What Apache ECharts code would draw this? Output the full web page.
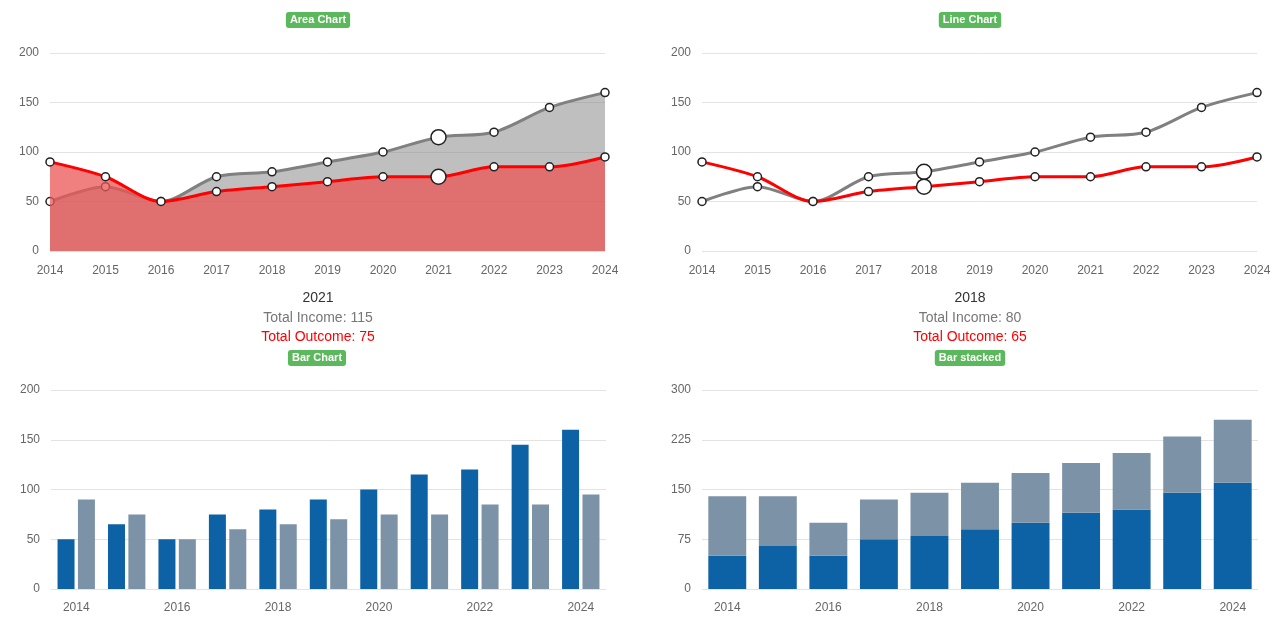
<!DOCTYPE html>
<html>
<head>
<meta charset="utf-8">
<script src="https://cdn.jsdelivr.net/npm/echarts@6/dist/echarts.min.js"></script>
<style>
html,body{margin:0;padding:0;background:#fff;}
#chart{width:1280px;height:622px;}
</style>
</head>
<body>
<div id="chart"></div>
<script>
// ---- data ----
const years = ['2014','2015','2016','2017','2018','2019','2020','2021','2022','2023','2024'];
const income = [50, 65, 50, 75, 80, 90, 100, 115, 120, 145, 160];
const outcome = [90, 75, 50, 60, 65, 70, 75, 75, 85, 85, 95];
const lineYTicks = [0, 50, 100, 150, 200];
const stackYTicks = [0, 75, 150, 225, 300];
const areaHoverIndex = 7;   // 2021
const lineHoverIndex = 4;   // 2018
const panelTitles = ['Area Chart', 'Line Chart', 'Bar Chart', 'Bar stacked'];

// ---- styles ----
const FONT = "'Liberation Sans', Arial, sans-serif";
const GREY_LINE = '#808080';
const RED = '#ff0000';
const BLUE = '#0d62a6';
const SLATE = '#7b92a7';
const SPLIT = '#e3e3e3';
const LABEL = '#666';

const chart = echarts.init(document.getElementById('chart'), null, {renderer: 'canvas'});

function withHover(arr, idx) {
  return arr.map((v, i) => i === idx ? {value: v, symbolSize: 15} : v);
}

function yAxis(gi, ticks) {
  return {
    type: 'value', gridIndex: gi,
    min: ticks[0], max: ticks[ticks.length - 1], interval: ticks[1] - ticks[0],
    axisLine: {show: false}, axisTick: {show: false},
    axisLabel: {color: LABEL, fontSize: 12, fontFamily: FONT, margin: 11},
    splitLine: {lineStyle: {color: SPLIT, width: 1}}
  };
}
function xAxis(gi, gap, interval, margin) {
  return {
    type: 'category', gridIndex: gi, data: years, boundaryGap: gap,
    axisLine: {show: false}, axisTick: {show: false},
    axisLabel: {color: LABEL, fontSize: 12, fontFamily: FONT, margin: margin, interval: interval},
    splitLine: {show: false}
  };
}

const symbolStyle = {color: '#fff', borderColor: '#222', borderWidth: 1.5};

function badge(text, x, y) {
  return {
    type: 'text', x: x, y: y, z: 100,
    style: {
      text: text, fill: '#fff', font: 'bold 11px ' + FONT,
      align: 'center', verticalAlign: 'middle',
      backgroundColor: '#5cb85c', padding: [3, 4, 2, 4], borderRadius: 3
    }
  };
}
function txt(text, x, y, color) {
  return {
    type: 'text', x: x, y: y, z: 100,
    style: {text: text, fill: color, font: '14px ' + FONT, align: 'center', verticalAlign: 'middle'}
  };
}

const option = {
  animation: false,
  backgroundColor: '#fff',
  grid: [
    {left: 50, top: 53, width: 555, height: 198},
    {left: 702, top: 53, width: 555, height: 198},
    {left: 51, top: 390, width: 555, height: 199},
    {left: 702, top: 390, width: 556, height: 199}
  ],
  xAxis: [xAxis(0, false, 0, 14), xAxis(1, false, 0, 14), xAxis(2, true, 1, 13), xAxis(3, true, 1, 13)],
  yAxis: [yAxis(0, lineYTicks), yAxis(1, lineYTicks), yAxis(2, lineYTicks), yAxis(3, stackYTicks)],
  series: [
    // Area chart
    {type: 'line', xAxisIndex: 0, yAxisIndex: 0, z: 2, smooth: 0.3,
     data: withHover(income, areaHoverIndex), symbol: 'circle', symbolSize: 8, showSymbol: true,
     lineStyle: {color: GREY_LINE, width: 3}, itemStyle: symbolStyle,
     areaStyle: {color: 'rgba(128,128,128,0.5)', opacity: 1}},
    {type: 'line', xAxisIndex: 0, yAxisIndex: 0, z: 3, smooth: 0.3,
     data: withHover(outcome, areaHoverIndex), symbol: 'circle', symbolSize: 8, showSymbol: true,
     lineStyle: {color: RED, width: 3}, itemStyle: symbolStyle,
     areaStyle: {color: 'rgba(235,85,85,0.75)', opacity: 1}},
    // Line chart
    {type: 'line', xAxisIndex: 1, yAxisIndex: 1, z: 2, smooth: 0.3,
     data: withHover(income, lineHoverIndex), symbol: 'circle', symbolSize: 8, showSymbol: true,
     lineStyle: {color: GREY_LINE, width: 3}, itemStyle: symbolStyle},
    {type: 'line', xAxisIndex: 1, yAxisIndex: 1, z: 3, smooth: 0.3,
     data: withHover(outcome, lineHoverIndex), symbol: 'circle', symbolSize: 8, showSymbol: true,
     lineStyle: {color: RED, width: 3}, itemStyle: symbolStyle},
    // Bar chart
    {type: 'bar', xAxisIndex: 2, yAxisIndex: 2, data: income, barWidth: 17, barGap: '20%',
     itemStyle: {color: BLUE}},
    {type: 'bar', xAxisIndex: 2, yAxisIndex: 2, data: outcome, barWidth: 17, barGap: '20%',
     itemStyle: {color: SLATE}},
    // Stacked
    {type: 'bar', xAxisIndex: 3, yAxisIndex: 3, stack: 'tot', data: income, barWidth: '75%',
     itemStyle: {color: BLUE}},
    {type: 'bar', xAxisIndex: 3, yAxisIndex: 3, stack: 'tot', data: outcome, barWidth: '75%',
     itemStyle: {color: SLATE}}
  ],
  graphic: [
    badge(panelTitles[0], 318, 20),
    badge(panelTitles[1], 970, 20),
    badge(panelTitles[2], 317, 358),
    badge(panelTitles[3], 970, 358),
    txt(years[areaHoverIndex], 318, 298, '#333'),
    txt('Total Income: ' + income[areaHoverIndex], 318, 318, '#777'),
    txt('Total Outcome: ' + outcome[areaHoverIndex], 318, 337, '#ff0000'),
    txt(years[lineHoverIndex], 970, 298, '#333'),
    txt('Total Income: ' + income[lineHoverIndex], 970, 318, '#777'),
    txt('Total Outcome: ' + outcome[lineHoverIndex], 970, 337, '#ff0000')
  ]
};
chart.setOption(option);
</script>
</body>
</html>
